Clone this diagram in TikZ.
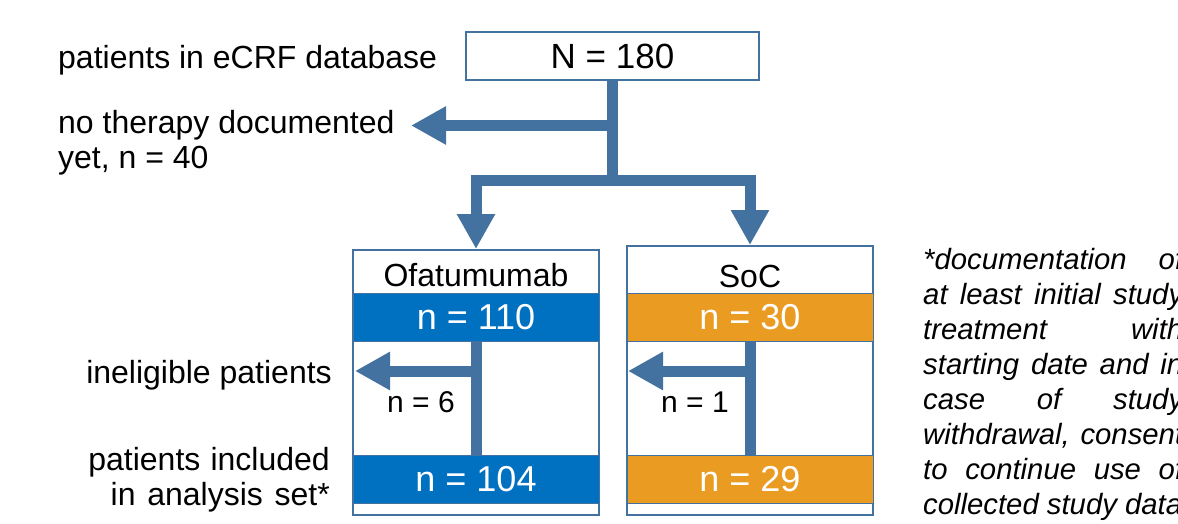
\documentclass[tikz,border=0pt]{standalone}
\usepackage{fontspec}
\setmainfont{Liberation Sans}
\usetikzlibrary{arrows.meta}

\definecolor{flowblue}{RGB}{68,114,160}
\definecolor{ofablue}{RGB}{0,112,192}
\definecolor{socorange}{RGB}{234,155,34}

% ragged nodes keep the font's own word spaces
\newcommand{\fontspaces}{\spaceskip=0pt\xspaceskip=0pt\relax}

\begin{document}
\begin{tikzpicture}[x=1pt,y=-1pt,
    flow/.style={draw=flowblue,line width=11pt},
    flowarrow/.style={flow,-{Triangle[length=35pt,width=36pt]}},
    frame/.style={draw=flowblue,line width=2pt,fill=white,minimum width=246pt,inner sep=0pt},
    band/.style={draw=flowblue,line width=1pt,minimum width=246pt,minimum height=48pt,
      inner sep=0pt,text=white,font=\fontsize{36}{40}\selectfont},
    lbl/.style={inner sep=0pt,font=\fontsize{32}{35.5}\selectfont},
    count/.style={inner sep=0pt,anchor=base east,font=\fontsize{30}{34}\selectfont}]

      \useasboundingbox (0,0) rectangle (1178,523);

      \node[draw=flowblue,line width=2pt,minimum width=293pt,minimum height=48pt,
        inner sep=0pt,font=\fontsize{35}{40}\selectfont] (total) at (612.5,56) {N = 180};

      \begin{scope}[every node/.style=frame]
        \node[minimum height=265pt] (ofabox) at (476,382.5) {};
        \node[minimum height=269pt] (socbox) at (750,380.5) {};
      \end{scope}

      \node[lbl,anchor=base] (ofa) at (476,286) {Ofatumumab};
      \node[lbl,anchor=base] (soc) at (750,287) {SoC};

      \begin{scope}[every node/.style=band]
        \node[fill=ofablue]    (ofa110) at (476,317.5) {n = 110};
        \node[fill=ofablue]    (ofa104) at (476,479)   {n = 104};
        \node[fill=socorange]  (soc30)  at (750,317.5) {n = 30};
        \node[fill=socorange]  (soc29)  at (750,479)   {n = 29};
      \end{scope}

      % labels on the left
      \node[lbl,anchor=base west] (dbLabel) at (58,68) {patients in eCRF database};
      \node[lbl,anchor=base west,text width=340pt,align=left] (noTher) at (58,133)
        {\fontspaces no therapy documented\\yet, n = 40};
      \node[lbl,anchor=base east] (inelLabel) at (332,383) {ineligible patients};
      \node[lbl,anchor=base east,text width=260pt,align=right] (inclLabel) at (330,470)
        {\fontspaces patients included\\in analysis set*};

      \node[count] (ofaInel) at (455,412) {n = 6};
      \node[count] (socInel) at (729,412) {n = 1};

      % footnote
      \node[anchor=base west,inner sep=0pt,text width=260pt,align=justify,
        font=\fontsize{29.3}{35}\selectfont\itshape] (note) at (923,269)
        {\tolerance=10000 *documentation of\linebreak at least initial study\linebreak
         treatment with\linebreak starting date and in\linebreak case of study\linebreak
         withdrawal, consent\linebreak to continue use of\linebreak collected study data};

      \coordinate (split)     at (612.5,180);
      \coordinate (noTherTip) at (411,125.5);
      \coordinate (ofaTip)    at (355,371);
      \coordinate (socTip)    at (628,371);

      \draw[flow] (total.south) -- (split);
      \draw[flowarrow] (total.south |- noTherTip) -- (noTherTip);
      \draw[flowarrow] (split) -| (ofabox.north);
      \draw[flowarrow] (split) -| (socbox.north);

      \draw[flow] (ofa110.south) -- (ofa104.north);
      \draw[flowarrow] (ofa110.south |- ofaTip) -- (ofaTip);
      \draw[flow] (soc30.south) -- (soc29.north);
      \draw[flowarrow] (soc30.south |- socTip) -- (socTip);

    \end{tikzpicture}
\end{document}
